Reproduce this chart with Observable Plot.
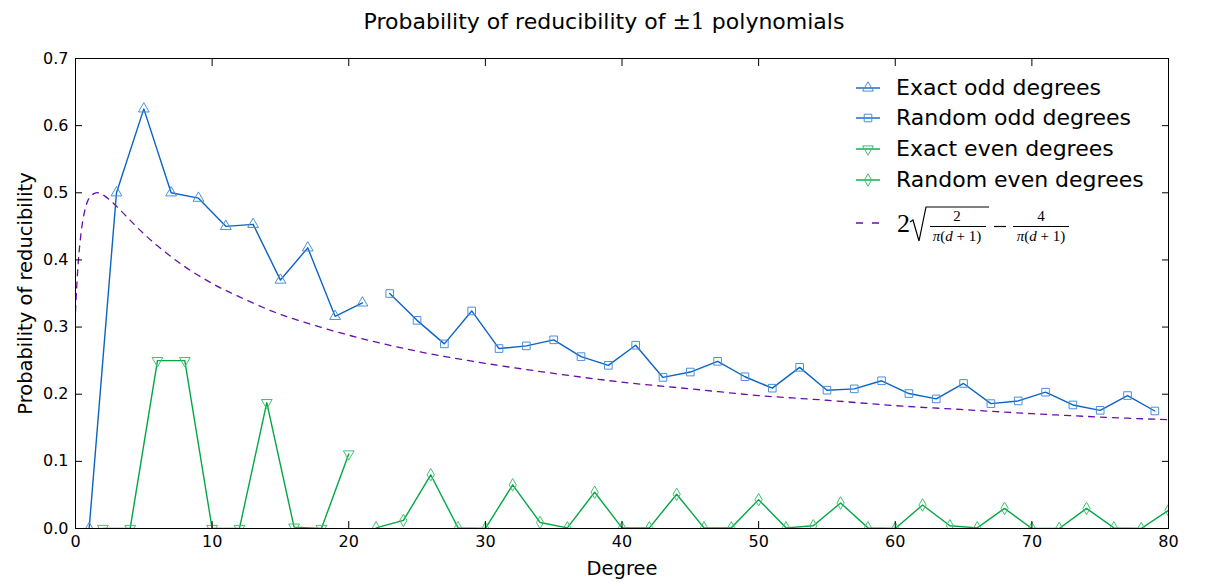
<!DOCTYPE html>
<html>
<head>
<meta charset="utf-8">
<script src="https://cdn.jsdelivr.net/npm/d3@7"></script>
<script src="https://cdn.jsdelivr.net/npm/@observablehq/plot@0.6"></script>
<style>
  body { margin:0; background:white; }
  #wrap { position:relative; width:1208px; height:587px; background:white; font-family:"DejaVu Sans", sans-serif; }
  #title { position:absolute; left:0; top:0; width:1208px; height:44px; line-height:44px; text-align:center; font-size:22px; color:black; }
  #title .m { font-family:"DejaVu Serif", serif; }
  #chart { position:absolute; left:0; top:44px; }
  .legrow { position:absolute; left:856px; height:30px; font-size:22px; color:black; }
  .legrow svg { position:absolute; left:0; top:0; }
  .legrow span { position:absolute; left:40px; top:0; line-height:30px; white-space:nowrap; }
</style>
</head>
<body>
<div id="wrap">
  <div id="title">Probability of reducibility of <span class="m">±1</span> polynomials</div>
  <div id="chart"></div>
  <div id="legend"></div>
</div>
<script>
// ---- data ----
const exactOddDeg = [1, 3, 5, 7, 9, 11, 13, 15, 17, 19, 21];
const exactOddVal = [0.0, 0.5, 0.625, 0.5, 0.492, 0.45, 0.453, 0.37, 0.418, 0.316, 0.336];

const randomOddDeg = [23, 25, 27, 29, 31, 33, 35, 37, 39, 41, 43, 45, 47, 49, 51, 53, 55, 57, 59, 61, 63, 65, 67, 69, 71, 73, 75, 77, 79];
const randomOddVal = [0.350, 0.310, 0.275, 0.324, 0.268, 0.272, 0.281, 0.256, 0.243, 0.273, 0.225, 0.233, 0.249, 0.226, 0.209, 0.240, 0.206, 0.208, 0.220, 0.201, 0.193, 0.216, 0.186, 0.190, 0.203, 0.184, 0.176, 0.198, 0.175];

const exactEvenDeg = [2, 4, 6, 8, 10, 12, 14, 16, 18, 20];
const exactEvenVal = [0.0, 0.0, 0.25, 0.25, 0.0, 0.0, 0.1875, 0.002, 0.0, 0.111];

const randomEvenDeg = [22, 24, 26, 28, 30, 32, 34, 36, 38, 40, 42, 44, 46, 48, 50, 52, 54, 56, 58, 60, 62, 64, 66, 68, 70, 72, 74, 76, 78, 80];
const randomEvenVal = [0.001, 0.012, 0.080, 0.001, 0.0, 0.065, 0.009, 0.001, 0.054, 0.001, 0.001, 0.051, 0.001, 0.001, 0.043, 0.001, 0.004, 0.038, 0.001, 0.0, 0.035, 0.004, 0.001, 0.030, 0.0, 0.0, 0.030, 0.001, 0.0, 0.027];

// dashed reference curve
const curveDeg = [0, 0.05, 0.1, 0.25, 0.5, 0.75, 1, 1.5, 2, 3, 4, 5, 6, 8, 10, 12, 15, 20, 25, 30, 35, 40, 45, 50, 55, 60, 65, 70, 75, 80];
const curveVal = [0.323, 0.345, 0.364, 0.409, 0.454, 0.479, 0.492, 0.500, 0.497, 0.480, 0.459, 0.439, 0.421, 0.390, 0.365, 0.345, 0.319, 0.288, 0.264, 0.246, 0.231, 0.218, 0.208, 0.198, 0.191, 0.183, 0.177, 0.171, 0.166, 0.162];

const xTicks = [0, 10, 20, 30, 40, 50, 60, 70, 80];
const yTicks = [0, 0.1, 0.2, 0.3, 0.4, 0.5, 0.6, 0.7];

const seriesNames = ["Exact odd degrees", "Random odd degrees", "Exact even degrees", "Random even degrees"];

// ---- styles ----
const blueLine = "#0b63c4", blueMark = "#4a8fdb";
const greenLine = "#00a844", greenMark = "#3cc46f";
const purple = "#6a0dad";

const toRows = (xs, ys) => xs.map((d, i) => ({d, p: ys[i]}));
const exactOdd = toRows(exactOddDeg, exactOddVal);
const randomOdd = toRows(randomOddDeg, randomOddVal);
const exactEven = toRows(exactEvenDeg, exactEvenVal);
const randomEven = toRows(randomEvenDeg, randomEvenVal);
const curve = toRows(curveDeg, curveVal);

const noText = () => "";

const chart = Plot.plot({
  width: 1208,
  height: 543,
  marginTop: 14,
  marginBottom: 59,
  marginLeft: 75,
  marginRight: 40,
  style: {fontFamily: "DejaVu Sans, sans-serif", fontSize: "16px", background: "white", color: "black", overflow: "visible"},
  x: {domain: [0, 80]},
  y: {domain: [0, 0.7]},
  marks: [
    Plot.line(curve, {x: "d", y: "p", stroke: purple, strokeWidth: 1.3, strokeDasharray: "6,6", curve: "catmull-rom", clip: true}),
    Plot.line(exactOdd, {x: "d", y: "p", stroke: blueLine, strokeWidth: 1.4, clip: true}),
    Plot.line(randomOdd, {x: "d", y: "p", stroke: blueLine, strokeWidth: 1.4, clip: true}),
    Plot.line(exactEven, {x: "d", y: "p", stroke: greenLine, strokeWidth: 1.4, clip: true}),
    Plot.line(randomEven, {x: "d", y: "p", stroke: greenLine, strokeWidth: 1.4, clip: true}),
    Plot.dot(exactOdd, {x: "d", y: "p", symbol: "triangle", r: 4, stroke: blueMark, fill: "none", strokeWidth: 1, clip: true}),
    Plot.dot(randomOdd, {x: "d", y: "p", symbol: "square", r: 4.3, stroke: blueMark, fill: "none", strokeWidth: 1, clip: true}),
    Plot.dot(exactEven, {x: "d", y: "p", symbol: "triangle", rotate: 180, r: 4, stroke: greenMark, fill: "none", strokeWidth: 1, clip: true}),
    Plot.dot(randomEven, {x: "d", y: "p", symbol: "diamond", r: 3.8, stroke: greenMark, fill: "none", strokeWidth: 1, clip: true}),
    Plot.frame({stroke: "black", strokeWidth: 1}),
    // inward ticks on all four sides
    Plot.axisX({anchor: "bottom", ticks: xTicks, tickSize: -7, tickFormat: noText, label: null}),
    Plot.axisX({anchor: "top", ticks: xTicks, tickSize: -7, tickFormat: noText, label: null}),
    Plot.axisY({anchor: "left", ticks: yTicks, tickSize: -7, tickFormat: noText, label: null}),
    Plot.axisY({anchor: "right", ticks: yTicks, tickSize: -7, tickFormat: noText, label: null}),
    // tick labels
    Plot.axisX({anchor: "bottom", ticks: xTicks, tickSize: 0, tickPadding: 7, label: null, fill: "black"}),
    Plot.axisY({anchor: "left", ticks: yTicks, tickSize: 0, tickPadding: 7, tickFormat: d3.format(".1f"), label: null, fill: "black"}),
    Plot.text(["Degree"], {frameAnchor: "bottom", lineAnchor: "middle", textAnchor: "middle", dy: 40, fontSize: 19.5, fill: "black"}),
    Plot.text(["Probability of reducibility"], {frameAnchor: "left", textAnchor: "middle", lineAnchor: "middle", dx: -50, rotate: -90, fontSize: 19.5, fill: "black"})
  ]
});
document.getElementById("chart").appendChild(chart);

// ---- legend (HTML overlay) ----
const legendSymbols = [
  {line: blueLine, mark: blueMark, sym: d3.symbolTriangle, rot: 0, size: 50},
  {line: blueLine, mark: blueMark, sym: d3.symbolSquare, rot: 0, size: 58},
  {line: greenLine, mark: greenMark, sym: d3.symbolTriangle, rot: 180, size: 50},
  {line: greenLine, mark: greenMark, sym: d3.symbolDiamond, rot: 0, size: 45}
];
const rowCenters = [88, 118, 149, 180];
const legend = document.getElementById("legend");
seriesNames.forEach((name, i) => {
  const s = legendSymbols[i];
  const row = document.createElement("div");
  row.className = "legrow";
  row.style.top = (rowCenters[i] - 15) + "px";
  const path = d3.symbol(s.sym, s.size)();
  row.innerHTML = `<svg width="30" height="30"><line x1="0" x2="24" y1="15" y2="15" stroke="${s.line}" stroke-width="1.4"/>` +
    `<path d="${path}" transform="translate(12,15) rotate(${s.rot})" fill="none" stroke="${s.mark}" stroke-width="1"/></svg>` +
    `<span>${name}</span>`;
  legend.appendChild(row);
});
// formula entry
const f = document.createElement("div");
f.style.position = "absolute";
f.style.left = "856px";
f.style.top = "195px";
f.innerHTML = `<svg width="230" height="55" style="overflow:visible">
  <line x1="0" x2="24" y1="28" y2="28" stroke="${purple}" stroke-width="1.4" stroke-dasharray="7,9"/>
  <g font-family="Liberation Serif, serif" fill="black">
    <text x="41" y="37" font-size="26">2</text>
    <polyline points="54,27 57,25 63,46 70,12 133,12" fill="none" stroke="black" stroke-width="1.2"/>
    <text x="101" y="26" font-size="15" text-anchor="middle">2</text>
    <line x1="74" x2="130" y1="31.5" y2="31.5" stroke="black" stroke-width="1"/>
    <text x="101" y="46" font-size="15" text-anchor="middle"><tspan font-style="italic">π</tspan>(<tspan font-style="italic">d</tspan> + 1)</text>
    <line x1="138" x2="150" y1="31.5" y2="31.5" stroke="black" stroke-width="1.2"/>
    <text x="185" y="26" font-size="15" text-anchor="middle">4</text>
    <line x1="157" x2="213" y1="31.5" y2="31.5" stroke="black" stroke-width="1"/>
    <text x="185" y="46" font-size="15" text-anchor="middle"><tspan font-style="italic">π</tspan>(<tspan font-style="italic">d</tspan> + 1)</text>
  </g>
</svg>`;
legend.appendChild(f);
</script>
</body>
</html>
